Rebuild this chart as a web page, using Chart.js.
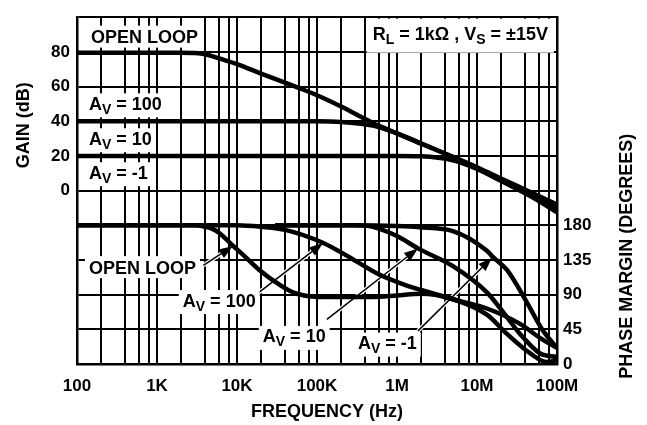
<!DOCTYPE html>
<html>
<head>
<meta charset="utf-8">
<script src="https://cdn.jsdelivr.net/npm/chart.js@4.4.1/dist/chart.umd.min.js"></script>
<style>
html, body { margin: 0; padding: 0; background: #fff; }
</style>
</head>
<body>
<canvas id="gain-chart" width="647" height="425"></canvas>
<script>
// gain curves (dB), left axis
var gainFreq = [100, 1e3, 2e3, 3e3, 4e3, 6e3, 1e4, 2e4, 5e4, 1e5, 2e5, 5e5, 1e6, 2e6, 5e6, 1e7, 2e7, 5e7, 1e8];
var gainOpenLoop = [79.5, 79.5, 79.5, 79.3, 78.6, 76.2, 73, 67.5, 60.5, 55, 48.5, 39, 33, 27, 19.5, 13.5, 7, -1.5, -8];
var gainAv100 = [40, 40, 40, 40, 40, 40, 40, 40, 40, 40, 39.6, 37.5, 33, 27.3, 19.3, 13, 6.5, -2.5, -10];
var gainAv10 = [20, 20, 20, 20, 20, 20, 20, 20, 20, 20, 20, 20, 20, 19.8, 17.5, 12.5, 5.5, -4, -12.5];

// phase margin curves (degrees), right axis
var phaseOpenLoopFreq = [100, 1e3, 3e3, 4e3, 5e3, 6e3, 9e3, 1.3e4, 1.9e4, 3.5e4, 5e4, 8e4, 1.2e5, 3e5, 5e5, 1e6, 2e6, 5e6, 1.33e7, 2.37e7, 4.6e7, 7.5e7, 1e8];
var phaseOpenLoop = [180, 180, 180, 178, 175, 170, 153, 138, 122, 102, 93, 88, 87, 87, 87, 89, 91, 84, 64, 39, 14, 2.5, 5];
var phaseAv100Freq = [100, 1e4, 2e4, 4e4, 1.2e5, 2.7e5, 6e5, 1.3e6, 2e6, 5e6, 1.33e7, 3.45e7, 6.1e7, 1e8];
var phaseAv100 = [180, 180, 178, 174, 157, 137, 116, 102, 96, 84, 72, 52, 34, 21];
var phaseAv10Freq = [3e4, 3e5, 5e5, 1e6, 1.83e6, 5e6, 1.33e7, 2.1e7, 3.45e7, 6.1e7, 1e8];
var phaseAv10 = [180, 180, 178, 166, 150, 127, 93, 68, 39, 14, 9];
var phaseAvm1Freq = [3e4, 3e5, 1e6, 1.9e6, 5e6, 1.33e7, 1.54e7, 2.37e7, 4.2e7, 6.7e7, 1e8];
var phaseAvm1 = [180, 180, 179, 177.5, 172.5, 147, 140, 122, 80, 43, 21];

// axes
var freqGrid = [];
[100, 1e3, 1e4, 1e5, 1e6, 1e7].forEach(function (d) { [1, 2, 4, 6, 8].forEach(function (m) { freqGrid.push(d * m); }); });
freqGrid.push(1e8);
var freqDecades = [100, 1e3, 1e4, 1e5, 1e6, 1e7, 1e8];
var freqLabels = ["100", "1K", "10K", "100K", "1M", "10M", "100M"];
var gainGrid = [-100, -80, -60, -40, -20, 0, 20, 40, 60, 80, 100];
var gainLabelled = [0, 20, 40, 60, 80];
var phaseGrid = [0, 45, 90, 135, 180, 225, 270, 315, 360, 405, 450];
var phaseLabelled = [0, 45, 90, 135, 180];

// curve labels and arrows, placed in data units
var notes = [
    { parts: [["OPEN LOOP"]], f: 150, v: 88.8, axis: "y", align: "left", pad: [5, 4] },
    { parts: [["R"], ["L", 1], [" = 1k\u03A9 , V"], ["S", 1], [" = \u00B115V"]], f: 7.7e7, v: 90.5, axis: "y", align: "right", pad: [6, 8] },
    { parts: [["A"], ["V", 1], [" = 100"]], f: 141, v: 50.3, axis: "y", align: "left", pad: [4, 3] },
    { parts: [["A"], ["V", 1], [" = 10"]], f: 141, v: 30.2, axis: "y", align: "left", pad: [4, 3] },
    { parts: [["A"], ["V", 1], [" = -1"]], f: 141, v: 10.6, axis: "y", align: "left", pad: [4, 3] },
    { parts: [["OPEN LOOP"]], f: 141, v: 125.7, axis: "y1", align: "left", pad: [4, 4] },
    { parts: [["A"], ["V", 1], [" = 100"]], f: 2.1e3, v: 83, axis: "y1", align: "left", pad: [4, 3] },
    { parts: [["A"], ["V", 1], [" = 10"]], f: 2.1e4, v: 36.5, axis: "y1", align: "left", pad: [4, 3] },
    { parts: [["A"], ["V", 1], [" = -1"]], f: 3.25e5, v: 27.7, axis: "y1", align: "left", pad: [4, 3] }
];
var arrows = [
    { from: [3800, 128], to: [8.9e3, 153] },
    { from: [1.83e4, 92], to: [1.19e5, 157] },
    { from: [1.33e5, 58], to: [1.83e6, 150] },
    { from: [1.83e6, 43], to: [1.54e7, 138] }
];

var FONT = '"Liberation Sans", Arial, sans-serif';

function pts(xs, ys) {
    return xs.map(function (x, i) { return { x: x, y: ys[i] }; });
}
function curve(xs, ys, axis) {
    return {
        data: pts(xs, ys),
        yAxisID: axis,
        borderColor: "#000",
        borderWidth: 4.5,
        pointRadius: 0,
        fill: false,
        cubicInterpolationMode: "monotone"
    };
}

function drawRich(ctx, parts, x, cy, align, pad) {
    var fs = 18, ss = 14, w = 0;
    parts.forEach(function (p) {
        ctx.font = "bold " + (p[1] ? ss : fs) + "px " + FONT;
        p.w = ctx.measureText(p[0]).width;
        w += p.w;
    });
    var left = align === "right" ? x - w : x;
    var hasSub = parts.some(function (p) { return p[1]; });
    ctx.fillStyle = "#fff";
    ctx.fillRect(left - pad[0], cy - 7 - pad[1], w + 2 * pad[0], 14 + 2 * pad[1] + (hasSub ? 4 : 0));
    ctx.fillStyle = "#000";
    ctx.textBaseline = "alphabetic";
    ctx.textAlign = "left";
    var base = cy + 6.5;
    var xx = left;
    parts.forEach(function (p) {
        ctx.font = "bold " + (p[1] ? ss : fs) + "px " + FONT;
        ctx.fillText(p[0], xx, p[1] ? base + 4 : base);
        xx += p.w;
    });
}

function drawArrow(ctx, x0, y0, x1, y1) {
    var a = Math.atan2(y1 - y0, x1 - x0);
    var len = 14, hw = 5;
    var bx = x1 - len * Math.cos(a), by = y1 - len * Math.sin(a);
    ctx.lineCap = "butt";
    ctx.strokeStyle = "#fff";
    ctx.lineWidth = 4;
    ctx.beginPath(); ctx.moveTo(x0, y0); ctx.lineTo(bx, by); ctx.stroke();
    ctx.strokeStyle = "#000";
    ctx.lineWidth = 1.5;
    ctx.beginPath(); ctx.moveTo(x0, y0); ctx.lineTo(bx, by); ctx.stroke();
    ctx.beginPath();
    ctx.moveTo(x1, y1);
    ctx.lineTo(bx + hw * Math.sin(a), by - hw * Math.cos(a));
    ctx.lineTo(bx - hw * Math.sin(a), by + hw * Math.cos(a));
    ctx.closePath();
    ctx.fillStyle = "#000";
    ctx.fill();
}

var notesPlugin = {
    id: "notes",
    beforeDatasetsDraw: function (chart) {
        var ctx = chart.ctx, sx = chart.scales.x;
        ctx.save();
        arrows.forEach(function (a) {
            var y1 = chart.scales.y1;
            drawArrow(ctx, sx.getPixelForValue(a.from[0]), y1.getPixelForValue(a.from[1]),
                sx.getPixelForValue(a.to[0]), y1.getPixelForValue(a.to[1]));
        });
        notes.forEach(function (n) {
            drawRich(ctx, n.parts, sx.getPixelForValue(n.f), chart.scales[n.axis].getPixelForValue(n.v), n.align, n.pad);
        });
        ctx.restore();
    },
    afterDraw: function (chart) {
        var ctx = chart.ctx, ca = chart.chartArea;
        ctx.save();
        ctx.fillStyle = "#000";
        ctx.font = "bold 18px " + FONT;
        ctx.textAlign = "center";
        ctx.textBaseline = "middle";
        ctx.fillText("FREQUENCY (Hz)", (ca.left + ca.right) / 2 + 10, ca.bottom + 48);
        ctx.save();
        ctx.translate(24, ca.top + 108);
        ctx.rotate(-Math.PI / 2);
        ctx.fillText("GAIN (dB)", 0, 0);
        ctx.restore();
        ctx.translate(627, ca.top + 239);
        ctx.rotate(-Math.PI / 2);
        ctx.fillText("PHASE MARGIN (DEGREES)", 0, 0);
        ctx.restore();
    }
};

var tickFont = { family: FONT, size: 17, weight: "bold" };

new Chart(document.getElementById("gain-chart"), {
    type: "line",
    data: {
        datasets: [
            curve(gainFreq, gainOpenLoop, "y"),
            curve(gainFreq, gainAv100, "y"),
            curve(gainFreq, gainAv10, "y"),
            curve(phaseOpenLoopFreq, phaseOpenLoop, "y1"),
            curve(phaseAv100Freq, phaseAv100, "y1"),
            curve(phaseAv10Freq, phaseAv10, "y1"),
            curve(phaseAvm1Freq, phaseAvm1, "y1")
        ]
    },
    options: {
        responsive: false,
        animation: false,
        layout: { padding: { top: 6, left: 0, right: 0, bottom: 0 } },
        plugins: { legend: { display: false }, tooltip: { enabled: false } },
        scales: {
            x: {
                type: "logarithmic",
                min: 100,
                max: 1e8,
                afterBuildTicks: function (s) { s.ticks = freqGrid.map(function (v) { return { value: v }; }); },
                afterFit: function (s) { s.height = 61; },
                ticks: {
                    autoSkip: false,
                    maxRotation: 0,
                    color: "#000",
                    font: tickFont,
                    padding: 12,
                    callback: function (v) {
                        var i = freqDecades.indexOf(v);
                        return i >= 0 ? freqLabels[i] : "";
                    }
                },
                grid: { color: "#000", lineWidth: 2, drawTicks: false },
                border: { color: "#000", width: 2.5 }
            },
            y: {
                position: "left",
                min: -100,
                max: 100,
                afterBuildTicks: function (s) { s.ticks = gainGrid.map(function (v) { return { value: v }; }); },
                afterFit: function (s) { s.width = 77; },
                ticks: {
                    color: "#000",
                    font: tickFont,
                    padding: 7,
                    callback: function (v) { return gainLabelled.indexOf(v) >= 0 ? String(v) : ""; }
                },
                grid: { color: "#000", lineWidth: 2, drawTicks: false },
                border: { color: "#000", width: 2.5 }
            },
            y1: {
                position: "right",
                min: 0,
                max: 450,
                afterBuildTicks: function (s) { s.ticks = phaseGrid.map(function (v) { return { value: v }; }); },
                afterFit: function (s) { s.width = 90; },
                ticks: {
                    color: "#000",
                    font: tickFont,
                    padding: 6,
                    callback: function (v) { return phaseLabelled.indexOf(v) >= 0 ? String(v) : ""; }
                },
                grid: { display: false, drawTicks: false },
                border: { color: "#000", width: 2.5 }
            }
        }
    },
    plugins: [notesPlugin]
});
</script>
</body>
</html>
